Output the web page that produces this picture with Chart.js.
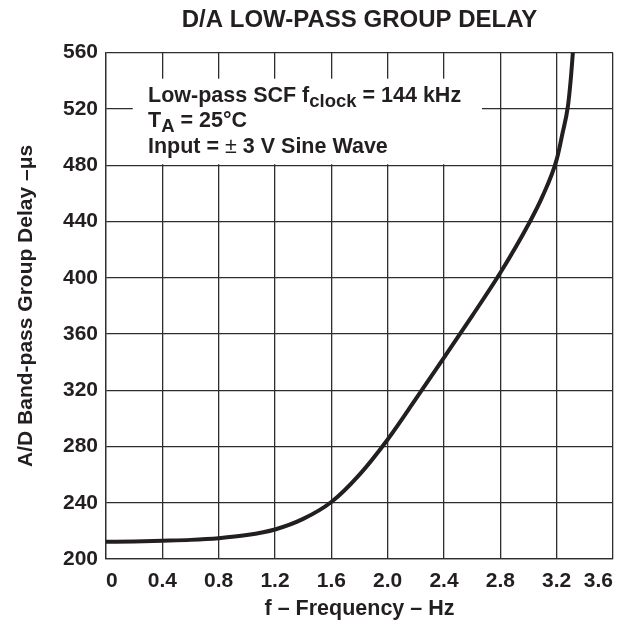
<!DOCTYPE html>
<html>
<head>
<meta charset="utf-8">
<title>D/A Low-pass Group Delay</title>
<script src="https://cdn.jsdelivr.net/npm/chart.js@4.4.1/dist/chart.umd.min.js"></script>
<style>
    html, body { margin: 0; padding: 0; background: #fff; }
    #wrap { width: 626px; height: 624px; }
</style>
</head>
<body>
<div id="wrap"><canvas id="delayChart" width="626" height="624"></canvas></div>
<script>
// Dados
const freqValues  = [0, 0.2, 0.4, 0.6, 0.8, 1.0, 1.2, 1.4, 1.6, 1.8, 2.0, 2.2, 2.4, 2.6, 2.8, 3.0, 3.1, 3.2, 3.24, 3.28, 3.30, 3.315];
const delayValues = [212.2, 212.5, 213, 213.6, 214.8, 217, 221, 228.5, 240.5, 260, 285, 313.8, 343.2, 372.9, 403.5, 438, 458, 484, 502, 522, 541, 560];

const xTicks = [0, 0.4, 0.8, 1.2, 1.6, 2.0, 2.4, 2.8, 3.2, 3.6];
const xTickLabels = ['0', '0.4', '0.8', '1.2', '1.6', '2.0', '2.4', '2.8', '3.2', '3.6'];
const yTicks = [200, 240, 280, 320, 360, 400, 440, 480, 520, 560];

const FONT = '"Liberation Sans", Arial, Helvetica, sans-serif';
const INK = '#231f20';
const GRID = '#2e2e2e';

// Caixa com as condições de teste
const notePlugin = {
    id: 'noteBox',
    beforeDatasetsDraw(chart) {
        const ctx = chart.ctx;
        const xs = chart.scales.x, ys = chart.scales.y;
        const left = xs.getPixelForValue(0.19);
        const right = xs.getPixelForValue(2.67);
        const top = ys.getPixelForValue(541.5);
        const bottom = ys.getPixelForValue(480) - 1;

        ctx.save();
        ctx.fillStyle = '#fff';
        ctx.fillRect(left, top, right - left, bottom - top);

        ctx.fillStyle = INK;
        ctx.textBaseline = 'alphabetic';
        ctx.textAlign = 'left';
        const big = 'bold 21.5px ' + FONT;
        const small = 'bold 18.5px ' + FONT;
        const x0 = 148;

        // linha 1
        let x = x0;
        ctx.font = big;
        ctx.fillText('Low-pass SCF f', x, 102);
        x += ctx.measureText('Low-pass SCF f').width;
        ctx.font = small;
        ctx.fillText('clock', x, 107);
        x += ctx.measureText('clock').width;
        ctx.font = big;
        ctx.fillText(' = 144 kHz', x, 102);

        // linha 2
        x = x0;
        ctx.fillText('T', x, 127);
        x += ctx.measureText('T').width;
        ctx.font = small;
        ctx.fillText('A', x, 132);
        x += ctx.measureText('A').width;
        ctx.font = big;
        ctx.fillText(' = 25°C', x, 127);

        // linha 3
        x = x0;
        ctx.fillText('Input = ', x, 153);
        x += ctx.measureText('Input = ').width;
        ctx.font = '21.5px ' + FONT;
        ctx.fillText('±', x, 153);
        x += ctx.measureText('±').width;
        ctx.font = big;
        ctx.fillText(' 3 V Sine Wave', x, 153);
        ctx.restore();
    }
};

const points = freqValues.map((f, i) => ({ x: f, y: delayValues[i] }));

new Chart(document.getElementById('delayChart').getContext('2d'), {
    type: 'line',
    data: {
        datasets: [{
            data: points,
            borderColor: INK,
            borderWidth: 4,
            pointRadius: 0,
            fill: false,
            cubicInterpolationMode: 'monotone'
        }]
    },
    options: {
        responsive: false,
        animation: false,
        devicePixelRatio: 1,
        layout: { padding: { left: 0, right: 13, top: 0, bottom: 0 } },
        plugins: {
            legend: { display: false },
            tooltip: { enabled: false },
            title: {
                display: true,
                fullSize: false,
                text: 'D/A LOW-PASS GROUP DELAY',
                color: INK,
                font: { family: FONT, size: 24, weight: 'bold', lineHeight: 1.2 },
                padding: { top: 6, bottom: 17.9 }
            }
        },
        scales: {
            x: {
                type: 'linear',
                min: 0,
                max: 3.6,
                afterBuildTicks: s => { s.ticks = xTicks.map(v => ({ value: v })); },
                afterFit: s => { s.height = 65; s.paddingLeft = 0; s.paddingRight = 0; },
                grid: { color: GRID, lineWidth: 1.3, drawTicks: false },
                border: { display: true, color: GRID, width: 1.3 },
                ticks: {
                    color: INK,
                    padding: 10,
                    maxRotation: 0,
                    align: 'inner',
                    font: { family: FONT, size: 21, weight: 'bold' },
                    callback: (v, i) => xTickLabels[i]
                },
                title: {
                    display: true,
                    text: 'f – Frequency – Hz',
                    color: INK,
                    font: { family: FONT, size: 21.5, weight: 'bold', lineHeight: 1.2 },
                    padding: { top: 0, bottom: 2 }
                }
            },
            y: {
                type: 'linear',
                min: 200,
                max: 560,
                afterBuildTicks: s => { s.ticks = yTicks.map(v => ({ value: v })); },
                afterFit: s => { s.width = 106; },
                grid: { color: GRID, lineWidth: 1.3, drawTicks: false },
                border: { display: true, color: GRID, width: 1.3 },
                ticks: {
                    color: INK,
                    padding: 8,
                    font: { family: FONT, size: 21, weight: 'bold' }
                },
                title: {
                    display: true,
                    text: 'A/D Band-pass Group Delay –μs',
                    color: INK,
                    font: { family: FONT, size: 21, weight: 'bold', lineHeight: 1.2 },
                    padding: { top: 14, bottom: 0 }
                }
            }
        }
    },
    plugins: [notePlugin]
});
</script>
</body>
</html>
